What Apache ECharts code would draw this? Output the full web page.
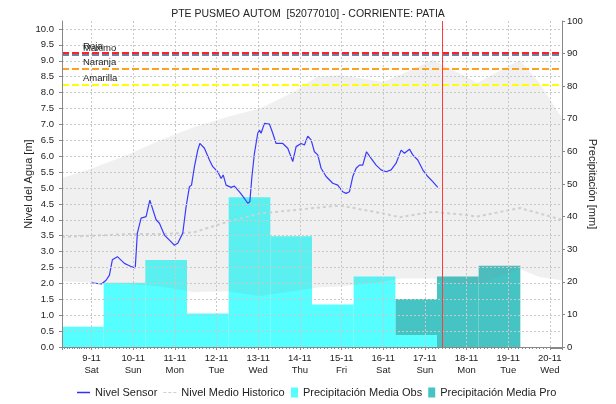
<!DOCTYPE html>
<html>
<head>
<meta charset="utf-8">
<script src="https://cdn.jsdelivr.net/npm/echarts@6/dist/echarts.min.js"></script>
<style>
    html, body { margin: 0; background: #fff; }
    #chart { width: 616px; height: 404px; }
</style>
</head>
<body>
<div id="chart"></div>
<script>
// titulos y textos
var titleText = 'PTE PUSMEO AUTOM  [52077010] - CORRIENTE: PATIA';
var dayNames = ['Sun', 'Mon', 'Tue', 'Wed', 'Thu', 'Fri', 'Sat'];

// nivel del sensor: dias desde 9-11 00:00, nivel [m]
var sensorDay = [0, 0.24, 0.35, 0.43, 0.5, 0.62, 0.79, 0.87, 0.95, 1.05, 1.1, 1.19, 1.31, 1.4, 1.55, 1.63, 1.75, 1.87, 1.99, 2.07,
    2.19, 2.27, 2.35, 2.4, 2.47, 2.55, 2.6, 2.71, 2.83, 2.91, 3.03, 3.11, 3.16, 3.23, 3.35, 3.43, 3.55, 3.67, 3.75, 3.8,
    3.85, 3.91, 3.99, 4.03, 4.07, 4.15, 4.27, 4.35, 4.43, 4.59, 4.71, 4.83, 4.91, 5.03, 5.11, 5.19, 5.27, 5.35, 5.43, 5.51,
    5.63, 5.79, 5.91, 6.03, 6.11, 6.19, 6.27, 6.35, 6.43, 6.51, 6.6, 6.71, 6.83, 6.95, 7.07, 7.19, 7.31, 7.43, 7.51, 7.63,
    7.71, 7.83, 7.95, 8.07, 8.19, 8.31];
var sensorLevel = [2.02, 1.98, 2.1, 2.26, 2.74, 2.84, 2.63, 2.58, 2.53, 2.49, 3.58, 4.05, 4.1, 4.62, 4.0, 3.89, 3.52, 3.36, 3.2, 3.26,
    3.58, 4.41, 5.04, 5.09, 5.67, 6.19, 6.4, 6.25, 5.88, 5.67, 5.51, 5.3, 5.41, 5.09, 5.02, 5.06, 4.88, 4.67, 4.52, 4.57,
    5.36, 6.09, 6.72, 6.82, 6.72, 7.03, 7.01, 6.72, 6.4, 6.4, 6.25, 5.83, 6.3, 6.4, 6.35, 6.63, 6.51, 6.14, 6.04, 5.62,
    5.36, 5.15, 5.09, 4.88, 4.83, 4.88, 5.36, 5.62, 5.72, 5.72, 6.14, 5.93, 5.72, 5.57, 5.51, 5.57, 5.78, 6.19, 6.09, 6.22,
    6.04, 5.88, 5.57, 5.36, 5.2, 5.02];

// rango historico y nivel medio historico [m]
var bandTime = ['2024-11-08 07:00', '2024-11-09 01:00', '2024-11-09 20:30', '2024-11-10 15:30', '2024-11-11 10:30',
    '2024-11-12 06:00', '2024-11-13 01:00', '2024-11-13 20:00', '2024-11-14 10:00', '2024-11-14 23:00',
    '2024-11-16 00:00', '2024-11-16 09:30', '2024-11-17 04:30', '2024-11-18 00:00', '2024-11-18 06:00',
    '2024-11-19 06:45', '2024-11-19 18:00', '2024-11-20 07:00'];
var bandUpper = [5.31, 5.63, 6.04, 6.5, 6.9, 7.23, 7.5, 8.0, 8.5, 8.55, 8.33, 8.55, 9.02, 8.5, 8.3, 9.02, 8.3, 7.2];
var bandLower = [2.07, 2.03, 1.98, 1.9, 1.73, 1.75, 1.6, 1.75, 1.87, 1.9, 2.05, 2.15, 2.15, 1.95, 1.95, 2.45, 2.2, 2.1];
var meanLevel = [3.46, 3.5, 3.55, 3.55, 3.6, 3.93, 4.2, 4.3, 4.38, 4.45, 4.2, 4.08, 4.25, 4.15, 4.1, 4.37, 4.2, 4.0];

// precipitacion diaria (07:00 a 07:00) [mm]
var obsDay = [8, 9, 10, 11, 12, 13, 14, 15, 16];
var obsPrecip = [6.2, 19.7, 26.7, 10.3, 45.9, 34, 13, 21.6, 3.7];
var proDay = [16, 17, 18];
var proPrecip = [14.7, 21.6, 24.9];

// umbrales
var umbralNames = ['Maximo', 'Roja', 'Naranja', 'Amarilla'];
var umbralValues = [9.2, 9.25, 8.75, 8.25];
var umbralColors = ['#6f7fa8', '#ff2020', '#ffa020', '#ffff00'];
var nowTime = '2024-11-17 09:50';

var DAY = 86400000;
var font = '"Liberation Sans", Arial, sans-serif';

function ms(s){
    var p = s.split(/[- :]/);
    return new Date(+p[0], p[1] - 1, +p[2], +p[3], +p[4]).getTime();
}

var base = new Date(2024, 10, 9).getTime();
var sensorData = sensorDay.map(function(d, i){ return [base + d * DAY, sensorLevel[i]]; });
var lowData = [], bandData = [], meanData = [];
for(var i = 0; i < bandTime.length; i++){
    var t = ms(bandTime[i]);
    lowData.push([t, bandLower[i]]);
    bandData.push([t, +(bandUpper[i] - bandLower[i]).toFixed(2)]);
    meanData.push([t, meanLevel[i]]);
}
function dayBars(days, vals){
    return days.map(function(d, i){
        var st = new Date(2024, 10, d, 7).getTime();
        return [st, st + DAY, vals[i]];
    });
}
function renderBar(params, api){
    var p0 = api.coord([api.value(0), api.value(2)]);
    var p1 = api.coord([api.value(1), 0]);
    return {
        type: 'rect',
        shape: {x: p0[0], y: p0[1], width: p1[0] - p0[0], height: p1[1] - p0[1]},
        style: {fill: api.visual('color')}
    };
}

var markData = umbralValues.map(function(v, i){
    return {
        yAxis: v,
        lineStyle: {color: umbralColors[i], type: [7, 3], width: 2},
        label: {show: true, formatter: umbralNames[i], position: 'insideStartTop', distance: [21, 1],
            color: '#222', fontFamily: font, fontSize: 9.5}
    };
});
markData.push({xAxis: ms(nowTime), lineStyle: {color: '#ff3b3b', type: 'solid', width: 1}, label: {show: false}});

var chart = echarts.init(document.getElementById('chart'));
var option = {
    animation: false,
    backgroundColor: '#fff',
    title: {
        text: titleText, left: 'center', top: 4,
        textStyle: {fontFamily: font, fontSize: 10.5, fontWeight: 'normal', color: '#222'}
    },
    grid: {left: 62, right: 54, top: 21, bottom: 57},
    legend: [{
        data: [
            {name: 'Nivel Sensor', icon: 'rect', itemStyle: {color: '#2f2fff'}},
            {name: 'Nivel Medio Historico', icon: 'path://M0,0h3v1h-3zM5,0h3v1h-3zM10,0h3v1h-3z', itemStyle: {color: '#cfcfcf'}}
        ],
        left: 77, top: 387, padding: 0, itemWidth: 13, itemHeight: 1.5, itemGap: 6,
        textStyle: {fontFamily: font, fontSize: 11, color: '#222'}
    }, {
        data: ['Precipitación Media Obs', 'Precipitación Media Pro'],
        left: 291, top: 387, padding: 0, itemWidth: 7, itemHeight: 10, itemGap: 6, icon: 'rect',
        textStyle: {fontFamily: font, fontSize: 11, color: '#222'}
    }],
    xAxis: {
        type: 'time',
        min: ms('2024-11-08 07:00'),
        max: ms('2024-11-20 07:00'),
        minInterval: DAY, maxInterval: DAY,
        z: 5,
        axisLine: {lineStyle: {color: '#888'}},
        axisTick: {show: true, length: 3, lineStyle: {color: '#888'}},
        minorTick: {show: true, splitNumber: 12, length: 2, lineStyle: {color: '#888'}},
        axisLabel: {
            color: '#222', fontFamily: font, fontSize: 9.5, lineHeight: 12, margin: 5,
            showMinLabel: false, showMaxLabel: false,
            formatter: function(v){
                var d = new Date(v);
                return d.getDate() + '-' + (d.getMonth() + 1) + '\n' + dayNames[d.getDay()];
            }
        },
        splitLine: {show: true, lineStyle: {color: '#c8c8c8', type: [2, 2]}}
    },
    yAxis: [{
        type: 'value', min: 0, max: 10.25, interval: 0.5, position: 'left', z: 5,
        name: 'Nivel del Agua [m]', nameLocation: 'middle', nameGap: 28, nameRotate: 90, nameMoveOverlap: false,
        nameTextStyle: {fontFamily: font, fontSize: 11, color: '#222'},
        axisLine: {show: true, lineStyle: {color: '#888'}},
        axisTick: {show: true, length: 3, lineStyle: {color: '#888'}},
        axisLabel: {color: '#222', fontFamily: font, fontSize: 9.5, margin: 8, showMaxLabel: false,
            formatter: function(v){ return v.toFixed(1); }},
        splitLine: {show: true, showMaxLine: false, lineStyle: {color: '#c8c8c8', type: [2, 2]}}
    }, {
        type: 'value', min: 0, max: 100, interval: 10, position: 'right', z: 5,
        name: 'Precipitación [mm]', nameLocation: 'middle', nameGap: 25, nameRotate: -90, nameMoveOverlap: false,
        nameTextStyle: {fontFamily: font, fontSize: 11, color: '#222'},
        axisLine: {show: true, lineStyle: {color: '#888'}},
        axisTick: {show: true, length: 3, lineStyle: {color: '#888'}},
        axisLabel: {color: '#222', fontFamily: font, fontSize: 9.5, margin: 5},
        splitLine: {show: false}
    }],
    series: [{
        name: 'Precipitación Media Pro', type: 'custom', yAxisIndex: 1, z: 1, clip: true,
        itemStyle: {color: '#46c4c4'},
        encode: {x: [0, 1], y: 2},
        renderItem: renderBar,
        data: dayBars(proDay, proPrecip)
    }, {
        name: 'Precipitación Media Obs', type: 'custom', yAxisIndex: 1, z: 1, clip: true,
        itemStyle: {color: '#55ffff'},
        encode: {x: [0, 1], y: 2},
        renderItem: renderBar,
        data: dayBars(obsDay, obsPrecip)
    }, {
        name: 'bandaBaja', type: 'line', stack: 'banda', symbol: 'none', silent: true, z: 2,
        lineStyle: {opacity: 0},
        data: lowData
    }, {
        name: 'bandaAlta', type: 'line', stack: 'banda', symbol: 'none', silent: true, z: 2,
        lineStyle: {opacity: 0},
        areaStyle: {color: 'rgba(128,128,128,0.12)', opacity: 1},
        data: bandData
    }, {
        name: 'Nivel Medio Historico', type: 'line', symbol: 'none', z: 3,
        itemStyle: {color: '#cfcfcf'},
        lineStyle: {color: '#cfcfcf', width: 2, type: [3, 3]},
        data: meanData
    }, {
        name: 'Nivel Sensor', type: 'line', symbol: 'none', z: 4,
        itemStyle: {color: '#2f2fff'},
        lineStyle: {color: '#3a3aff', width: 1.2},
        data: sensorData,
        markLine: {silent: true, symbol: ['none', 'none'], animation: false, data: markData}
    }]
};
chart.setOption(option);
</script>
</body>
</html>
